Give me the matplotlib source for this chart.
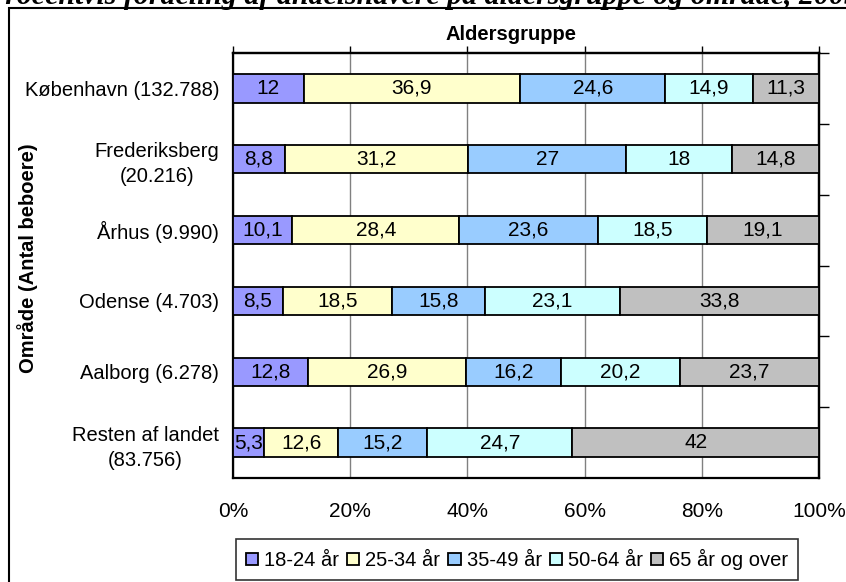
import matplotlib
matplotlib.use('Agg')
import matplotlib.pyplot as plt
import matplotlib.patches as mpatches
import numpy as np

plt.rcParams['font.family'] = ['Liberation Sans', 'DejaVu Sans']

# data (percent per age group, per area)
omraader = ['København (132.788)', 'Frederiksberg\n(20.216)', 'Århus (9.990)',
            'Odense (4.703)', 'Aalborg (6.278)', 'Resten af landet\n(83.756)']
grupper = ['18-24 år', '25-34 år', '35-49 år', '50-64 år', '65 år og over']
farver = ['#9999FF', '#FFFFCC', '#99CCFF', '#CCFFFF', '#C0C0C0']

aar_18_24 = [12, 8.8, 10.1, 8.5, 12.8, 5.3]
aar_25_34 = [36.9, 31.2, 28.4, 18.5, 26.9, 12.6]
aar_35_49 = [24.6, 27, 23.6, 15.8, 16.2, 15.2]
aar_50_64 = [14.9, 18, 18.5, 23.1, 20.2, 24.7]
aar_65 = [11.3, 14.8, 19.1, 33.8, 23.7, 42]

serier = np.array([aar_18_24, aar_25_34, aar_35_49, aar_50_64, aar_65])
# 100% stacked -> normalise every row to its own total
andele = serier / serier.sum(axis=0) * 100

fs = 14.5

fig = plt.figure(figsize=(8.46, 5.82), dpi=100)
ax = fig.add_axes([233/846, 1-478/582, 586/846, 425/582])

y = np.arange(len(omraader)) + 0.5
venstre = np.zeros(len(omraader))
for i in range(len(grupper)):
    bars = ax.barh(y, andele[i], left=venstre, height=0.4, color=farver[i],
                   edgecolor='black', linewidth=1.3, label=grupper[i], zorder=3)
    for j, b in enumerate(bars):
        v = serier[i, j]
        txt = ('%g' % v).replace('.', ',')
        ax.text(venstre[j] + andele[i, j]/2, y[j], txt, ha='center', va='center',
                fontsize=15, zorder=4)
    venstre += andele[i]

ax.set_xlim(0, 100)
ax.set_ylim(len(omraader), 0)
ax.set_xticks(np.arange(0, 101, 20))
ax.set_xticklabels([f'{t}%' for t in range(0, 101, 20)], fontsize=15)
ax.set_yticks(y)
ax.set_yticklabels(omraader, fontsize=fs, multialignment='center', linespacing=1.4)
ax.tick_params(axis='x', length=0, pad=17)
ax.tick_params(axis='y', length=0, pad=10)
ax.grid(axis='x', color='#808080', linewidth=1, zorder=0)
for s in ax.spines.values():
    s.set_linewidth(1.6)
    s.set_color('black')

# secondary axes without labels (top and right)
top = ax.secondary_xaxis('top')
top.set_xticks(np.arange(0, 101, 20))
top.set_xticklabels([])
top.tick_params(direction='out', length=5, width=1)
top.spines['top'].set_linewidth(1.6)

hoejre = ax.secondary_yaxis('right')
hoejre.set_yticks(np.arange(0, 6))
hoejre.set_yticklabels([])
hoejre.tick_params(direction='out', length=7, width=1)
hoejre.spines['right'].set_linewidth(1.6)

ax.set_ylabel('Område (Antal beboere)', fontsize=fs, fontweight='bold')
ax.yaxis.set_label_coords(-0.333, 0.518)
fig.text(511/846, 1-35/582, 'Aldersgruppe', ha='center', va='center',
         fontsize=fs, fontweight='bold')

# outer chart frame and the title that is cut off at the top edge
fig.add_artist(mpatches.Rectangle((9/846, -0.2), 1.2, 1.2 - 8/582,
                                  transform=fig.transFigure, fill=False,
                                  edgecolor='black', linewidth=1.5, clip_on=False))
fig.text(423/846, 1-4/582, 'Procentvis fordeling af andelshavere på aldersgruppe og område, 2005',
         ha='center', va='baseline', fontsize=21.5, fontweight='bold', style='italic',
         family='Liberation Serif')

leg = fig.legend(loc='upper left', bbox_to_anchor=(236/846, 1-539/582), ncol=5,
                 fontsize=fs, frameon=True, fancybox=False, edgecolor='black',
                 handlelength=0.6, handleheight=0.6, handletextpad=0.3,
                 columnspacing=0.4, borderpad=0.5, borderaxespad=0)
leg.get_frame().set_linewidth(1.2)

fig.savefig('out.png', dpi=100)
